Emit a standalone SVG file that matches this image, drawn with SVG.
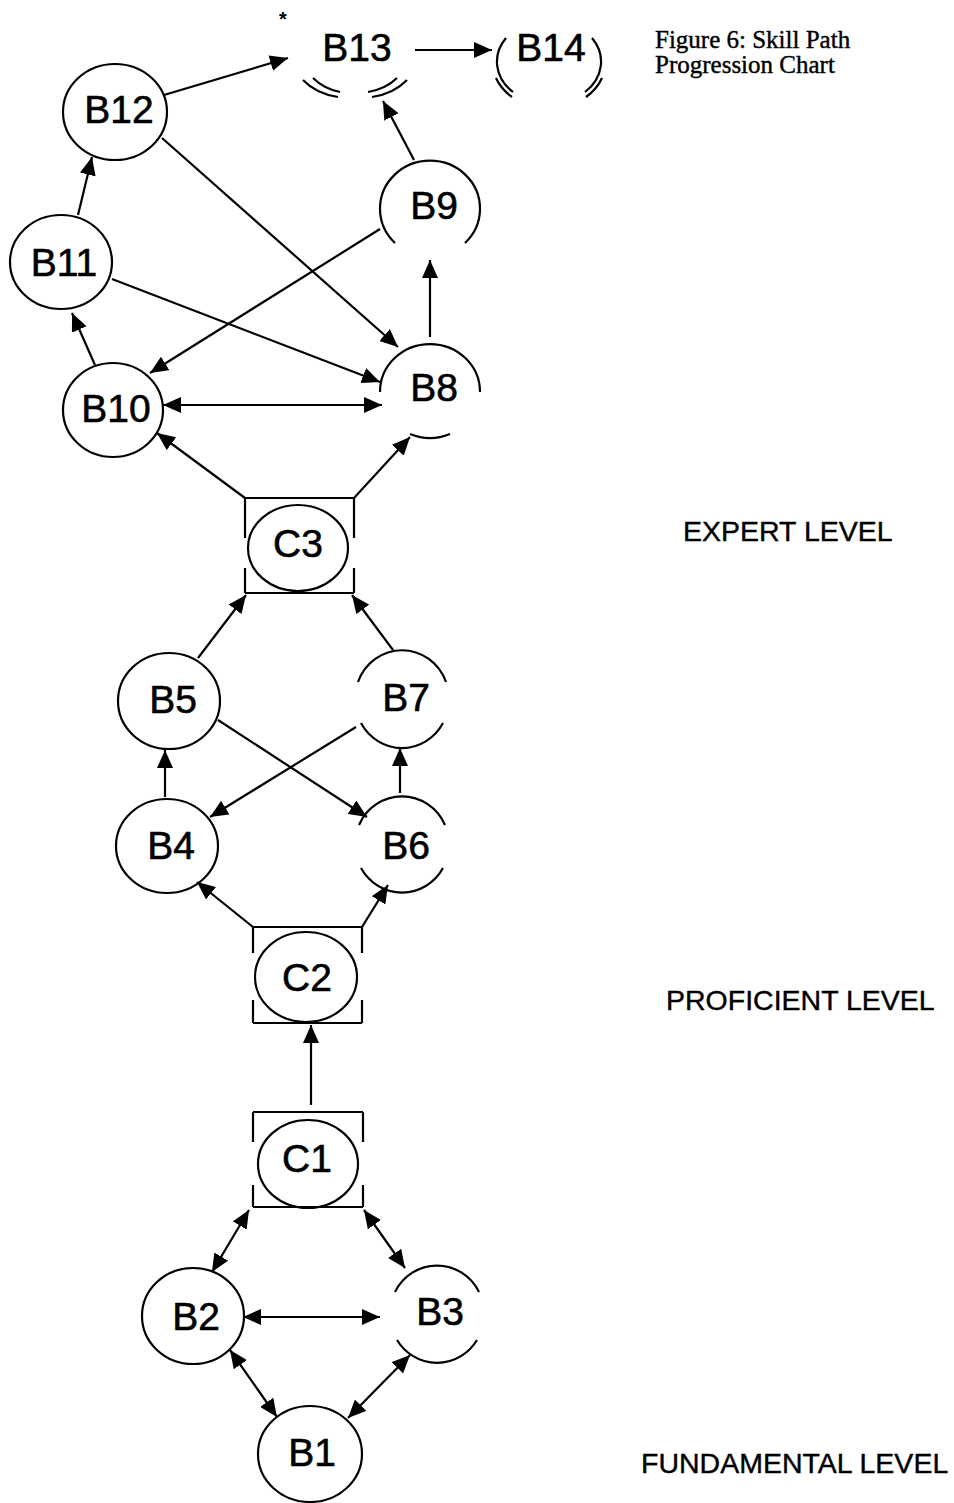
<svg xmlns="http://www.w3.org/2000/svg" width="954" height="1503" viewBox="0 0 954 1503">
<style>
.nd{fill:none;stroke:#000;stroke-width:2.2}
.lb{font-family:"Liberation Sans",Arial,sans-serif;font-size:39px;text-anchor:middle;fill:#000;stroke:#000;stroke-width:0.6}
.lv{font-family:"Liberation Sans",Arial,sans-serif;font-size:28.5px;fill:#000;stroke:#000;stroke-width:0.4}
.ti{font-family:"Liberation Serif","Times New Roman",serif;font-size:25px;fill:#000;stroke:#000;stroke-width:0.4}
.cn line{stroke:#000;stroke-width:2.2;marker-end:url(#ah)}
.cn line.bi{marker-start:url(#ahs)}
</style>
<defs>
<marker id="ah" markerUnits="userSpaceOnUse" markerWidth="18" markerHeight="16" refX="18" refY="8" orient="auto"><path d="M0,0 L18,8 L0,16 z" fill="#000"/></marker>
<marker id="ahs" markerUnits="userSpaceOnUse" markerWidth="18" markerHeight="16" refX="18" refY="8" orient="auto-start-reverse"><path d="M0,0 L18,8 L0,16 z" fill="#000"/></marker>
</defs>
<rect width="954" height="1503" fill="#fff"/>

<g id="title"><text class="ti" x="655" y="48">Figure 6: Skill Path</text><text class="ti" x="655" y="73">Progression Chart</text></g>
<g id="levels">
<text class="lv" x="683" y="541">EXPERT LEVEL</text>
<text class="lv" x="666" y="1010">PROFICIENT LEVEL</text>
<text class="lv" x="641" y="1473">FUNDAMENTAL LEVEL</text>
</g>

<g class="cn" id="connectors">
<line x1="164" y1="95" x2="288" y2="58"/>
<line x1="415" y1="50" x2="492" y2="50"/>
<line x1="414" y1="160" x2="383" y2="101"/>
<line x1="430" y1="337" x2="430" y2="260"/>
<line x1="162" y1="138" x2="398" y2="347"/>
<line x1="112" y1="279" x2="380" y2="382"/>
<line x1="380" y1="229" x2="150" y2="373"/>
<line class="bi" x1="163" y1="405" x2="382" y2="405"/>
<line x1="95" y1="365" x2="72" y2="313"/>
<line x1="78" y1="215" x2="92" y2="157"/>
<line x1="245" y1="498" x2="157" y2="433"/>
<line x1="354" y1="498" x2="410" y2="437"/>
<line x1="198" y1="658" x2="246" y2="595"/>
<line x1="393" y1="650" x2="352" y2="595"/>
<line x1="165" y1="797" x2="165" y2="750"/>
<line x1="400" y1="793" x2="400" y2="748"/>
<line x1="218" y1="720" x2="367" y2="817"/>
<line x1="356" y1="727" x2="210" y2="817"/>
<line x1="253" y1="927" x2="197" y2="882"/>
<line x1="362" y1="927" x2="388" y2="885"/>
<line x1="311" y1="1105" x2="311" y2="1025"/>
<line class="bi" x1="249" y1="1210" x2="212" y2="1272"/>
<line class="bi" x1="364" y1="1210" x2="405" y2="1268"/>
<line class="bi" x1="243" y1="1317" x2="380" y2="1317"/>
<line class="bi" x1="230" y1="1350" x2="277" y2="1417"/>
<line class="bi" x1="410" y1="1355" x2="348" y2="1418"/>
</g>

<g id="B13">
<text x="283" y="26" style="font-family:'Liberation Sans',Arial,sans-serif;font-size:20px;font-weight:bold" text-anchor="middle">*</text>
<path class="nd" d="M303,80 A57,45 0 0,0 338,97 M372,97 A57,45 0 0,0 407,80 M313,78 A51,40 0 0,0 340,92 M368,92 A51,40 0 0,0 397,78"/>
<text class="lb" x="357" y="61">B13</text>
</g>
<g id="B14">
<path class="nd" d="M506,38 A52,42 0 0,0 513,92 M592,38 A52,42 0 0,1 585,92 M496,78 A57,47 0 0,0 512,97 M586,97 A57,47 0 0,0 602,78"/>
<text class="lb" x="551" y="61">B14</text>
</g>
<g id="B12"><ellipse class="nd" cx="115" cy="112" rx="52" ry="48"/><text class="lb" x="119" y="123">B12</text></g>
<g id="B11"><ellipse class="nd" cx="61" cy="262" rx="51" ry="47"/><text class="lb" x="64" y="276">B11</text></g>
<g id="B10"><ellipse class="nd" cx="113" cy="410" rx="50" ry="47"/><text class="lb" x="116" y="422">B10</text></g>
<g id="B9"><path class="nd" d="M395,243 A50,48 0 1,1 465,243"/><text class="lb" x="434" y="219">B9</text></g>
<g id="B8"><path class="nd" d="M380,392 A50,48 0 0,1 480,392 M410,434 A50,48 0 0,0 450,434"/><text class="lb" x="434" y="401">B8</text></g>

<g id="C3">
<path class="nd" d="M245,498 H354 M245,593 H354 M245,498 V538 M245,568 V593 M354,498 V538 M354,568 V593"/>
<ellipse class="nd" cx="298" cy="548" rx="50" ry="43"/>
<text class="lb" x="298" y="557">C3</text>
</g>
<g id="B5"><ellipse class="nd" cx="169" cy="701" rx="51" ry="48"/><text class="lb" x="173" y="713">B5</text></g>
<g id="B7"><path class="nd" d="M358,682 A47,49 0 0,1 446,682 M361,723 A47,49 0 0,0 443,723"/><text class="lb" x="406" y="711">B7</text></g>
<g id="B4"><ellipse class="nd" cx="167" cy="846" rx="51" ry="47"/><text class="lb" x="171" y="859">B4</text></g>
<g id="B6"><path class="nd" d="M359,825 A47,48 0 0,1 445,825 M361,868 A47,48 0 0,0 443,868"/><text class="lb" x="406" y="859">B6</text></g>

<g id="C2">
<path class="nd" d="M253,927 H362 M253,1023 H362 M253,927 V953 M253,1000 V1023 M362,927 V953 M362,1000 V1023"/>
<ellipse class="nd" cx="306" cy="977" rx="51" ry="45"/>
<text class="lb" x="307" y="991">C2</text>
</g>
<g id="C1">
<path class="nd" d="M253,1112 H363 M253,1207 H363 M253,1112 V1142 M253,1185 V1207 M363,1112 V1142 M363,1185 V1207"/>
<ellipse class="nd" cx="308" cy="1164" rx="50" ry="44"/>
<text class="lb" x="307" y="1172">C1</text>
</g>
<g id="B2"><ellipse class="nd" cx="193" cy="1316" rx="51" ry="48"/><text class="lb" x="196" y="1330">B2</text></g>
<g id="B3"><path class="nd" d="M395,1292 A47,48 0 0,1 479,1292 M397,1340 A47,48 0 0,0 477,1340"/><text class="lb" x="440" y="1325">B3</text></g>
<g id="B1"><ellipse class="nd" cx="310" cy="1454" rx="52" ry="48"/><text class="lb" x="312" y="1466">B1</text></g>
</svg>
